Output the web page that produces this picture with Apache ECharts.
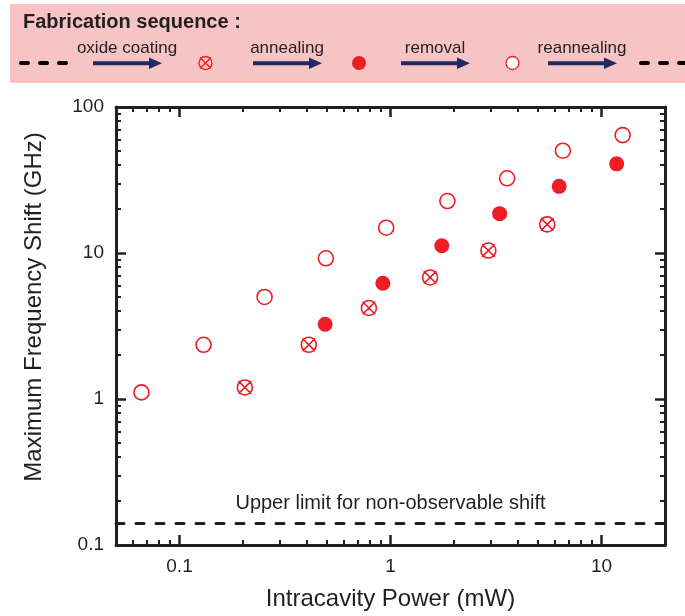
<!DOCTYPE html>
<html>
<head>
<meta charset="utf-8">
<title>Maximum frequency shift vs intracavity power</title>
<script src="https://cdn.jsdelivr.net/npm/echarts@6/dist/echarts.min.js"></script>
<style>
  html, body { margin: 0; padding: 0; background: #fff; }
  #chart { width: 685px; height: 616px; }
</style>
</head>
<body>
<div id="chart"></div>
<script>
// after oxide coating (crossed circles)
const coatedPower = [0.204, 0.41, 0.79, 1.54, 2.91, 5.53]
const coatedShift = [1.2, 2.35, 4.2, 6.8, 10.4, 15.7]
// after annealing (filled circles)
const annealedPower = [0.49, 0.92, 1.75, 3.29, 6.3, 11.8]
const annealedShift = [3.25, 6.2, 11.2, 18.6, 28.6, 40.8]
// after removal (open circles)
const removedPower = [0.066, 0.13, 0.253, 0.494, 0.954, 1.86, 3.57, 6.56, 12.6]
const removedShift = [1.11, 2.35, 5.0, 9.2, 14.9, 22.7, 32.5, 50.2, 64.2]

const upperLimit = 0.145

const xMajor = [0.1, 1, 10]
const xMinor = [0.06, 0.07, 0.08, 0.09, 0.2, 0.3, 0.4, 0.5, 0.6, 0.7, 0.8, 0.9, 2, 3, 4, 5, 6, 7, 8, 9]
const xTickLabels = ['0.1', '1', '10']
const yMajor = [0.1, 1, 10, 100]
const yMinor = [0.2, 0.3, 0.4, 0.5, 0.6, 0.7, 0.8, 0.9, 2, 3, 4, 5, 6, 7, 8, 9, 20, 30, 40, 50, 60, 70, 80, 90]
const yTickLabels = ['0.1', '1', '10', '100']

const red = '#ee1d23'
const ink = '#231f20'
const navy = '#1f2a5e'
const font = 'Liberation Sans, Arial, sans-serif'

const pair = (xs, ys) => xs.map((x, i) => [x, ys[i]])

function labelFor(values, labels) {
  return v => {
    let best = 0
    values.forEach((m, i) => {
      if (Math.abs(Math.log10(m) - Math.log10(v)) < Math.abs(Math.log10(values[best]) - Math.log10(v))) best = i
    })
    return labels[best]
  }
}

function axis(position, min, max, ticks, major, withLine, labels) {
  return {
    type: 'log',
    position: position,
    min: min,
    max: max,
    splitLine: { show: false },
    axisLine: { show: withLine, lineStyle: { color: ink, width: 3 } },
    axisTick: {
      show: true,
      inside: true,
      customValues: ticks,
      length: major ? 10 : 5,
      lineStyle: { color: ink, width: major ? 2.5 : 2 }
    },
    axisLabel: labels ? {
      show: true,
      customValues: ticks,
      formatter: labelFor(ticks, labels),
      color: ink,
      fontSize: 19,
      fontFamily: font,
      margin: 12
    } : { show: false }
  }
}

const chart = echarts.init(document.getElementById('chart'), null, { renderer: 'canvas' })

const xBottom = axis('bottom', 0.05, 20, xMajor, true, true, xTickLabels)
xBottom.name = 'Intracavity Power (mW)'
xBottom.nameLocation = 'middle'
xBottom.nameGap = 42
xBottom.nameTextStyle = { color: ink, fontSize: 24, fontFamily: font }

const yLeft = axis('left', 0.1, 100, yMajor, true, true, yTickLabels)
yLeft.name = 'Maximum Frequency Shift (GHz)'
yLeft.nameLocation = 'middle'
yLeft.nameGap = 70
yLeft.nameTextStyle = { color: ink, fontSize: 24, fontFamily: font, padding: [0, 0, 0, 38] }

const crossPath = 'path://M0,-10A10,10,0,1,1,0,10A10,10,0,1,1,0,-10ZM-8.4,-8.4L8.4,8.4M8.4,-8.4L-8.4,8.4'

chart.setOption({
  animation: false,
  textStyle: { fontFamily: font },
  grid: { left: 116, right: 20, top: 107, bottom: 69 },
  xAxis: [
    xBottom,
    axis('bottom', 0.05, 20, xMinor, false, false, null),
    axis('top', 0.05, 20, xMajor, true, true, null),
    axis('top', 0.05, 20, xMinor, false, false, null)
  ],
  yAxis: [
    yLeft,
    axis('left', 0.1, 100, yMinor, false, false, null),
    axis('right', 0.1, 100, yMajor, true, true, null),
    axis('right', 0.1, 100, yMinor, false, false, null)
  ],
  graphic: [
    { type: 'rect', left: 10, top: 4, shape: { width: 675, height: 79 }, style: { fill: '#f7c4c6' } },
    { type: 'text', left: 23, top: 12, style: { text: 'Fabrication sequence :', fill: ink, font: 'bold 20px ' + font } },
    // dashes
    { type: 'line', shape: { x1: 21, y1: 63, x2: 76, y2: 63 }, style: { stroke: '#000', lineWidth: 4, lineDash: [7, 12], lineCap: 'round' } },
    { type: 'line', shape: { x1: 641, y1: 63, x2: 700, y2: 63 }, style: { stroke: '#000', lineWidth: 4, lineDash: [7, 12], lineCap: 'round' } },
    // arrows with captions
    ...[[93, 'oxide coating'], [253, 'annealing'], [401, 'removal'], [548, 'reannealing']].flatMap(([x0, t]) => [
      { type: 'rect', shape: { x: x0, y: 61.3, width: 58, height: 4 }, style: { fill: navy } },
      { type: 'polygon', shape: { points: [[x0 + 56, 57.5], [x0 + 69, 63.3], [x0 + 56, 69]] }, style: { fill: navy } },
      { type: 'text', x: x0 + 34, y: 48, style: { text: t, fill: ink, font: '17px ' + font, align: 'center', verticalAlign: 'middle' } }
    ]),
    // state markers
    { type: 'circle', shape: { cx: 205.5, cy: 63, r: 6.5 }, style: { fill: 'rgba(0,0,0,0)', stroke: red, lineWidth: 1.3 } },
    { type: 'line', shape: { x1: 200, y1: 57.5, x2: 211, y2: 68.5 }, style: { stroke: red, lineWidth: 1.3 } },
    { type: 'line', shape: { x1: 211, y1: 57.5, x2: 200, y2: 68.5 }, style: { stroke: red, lineWidth: 1.3 } },
    { type: 'circle', shape: { cx: 359, cy: 63, r: 7 }, style: { fill: red } },
    { type: 'circle', shape: { cx: 512.5, cy: 63, r: 6.5 }, style: { fill: '#fff', stroke: red, lineWidth: 1.3 } }
  ],
  series: [
    {
      name: 'after oxide coating',
      type: 'scatter',
      symbol: crossPath,
      symbolSize: 15,
      itemStyle: { color: 'rgba(0,0,0,0)', borderColor: red, borderWidth: 1.6, opacity: 1 },
      data: pair(coatedPower, coatedShift),
      markLine: {
        silent: true,
        symbol: ['none', 'none'],
        lineStyle: { color: ink, width: 3, type: [8, 12], cap: 'round', opacity: 1 },
        label: {
          show: true,
          position: 'insideMiddleTop',
          distance: 10,
          formatter: 'Upper limit for non-observable shift',
          color: ink,
          fontSize: 20,
          fontFamily: font
        },
        data: [{ yAxis: upperLimit }]
      }
    },
    {
      name: 'after annealing',
      type: 'scatter',
      symbol: 'circle',
      symbolSize: 15,
      itemStyle: { color: red, opacity: 1 },
      data: pair(annealedPower, annealedShift)
    },
    {
      name: 'after removal',
      type: 'scatter',
      symbol: 'circle',
      symbolSize: 15,
      itemStyle: { color: '#fff', borderColor: red, borderWidth: 1.6, opacity: 1 },
      data: pair(removedPower, removedShift)
    }
  ]
})
</script>
</body>
</html>
